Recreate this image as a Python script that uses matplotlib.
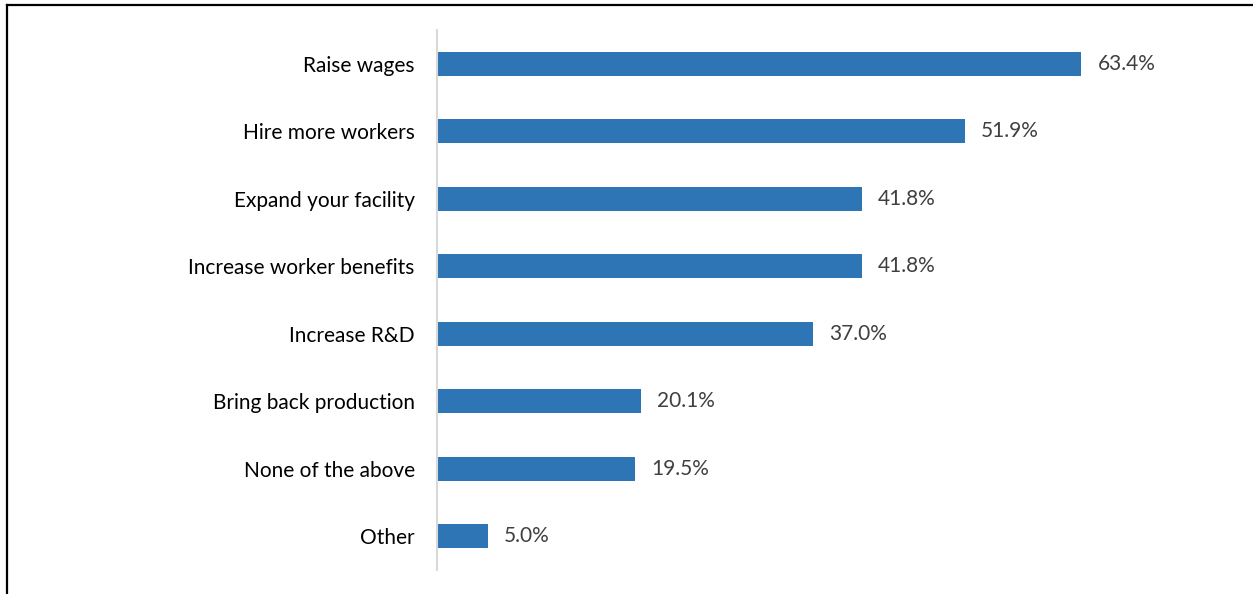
import matplotlib
matplotlib.use('Agg')
import matplotlib.pyplot as plt
from matplotlib.lines import Line2D

categories = ['Raise wages', 'Hire more workers', 'Expand your facility',
              'Increase worker benefits', 'Increase R&D', 'Bring back production',
              'None of the above', 'Other']
values = [63.4, 51.9, 41.8, 41.8, 37.0, 20.1, 19.5, 5.0]

plt.rcParams['font.family'] = ['Lato', 'DejaVu Sans']

fig = plt.figure(figsize=(12.53, 5.94), dpi=100)
ax = fig.add_axes([437/1253, 24/594, (1240-437)/1253, 540/594])

ypos = list(range(len(categories)))
ax.barh(ypos, values, height=0.36, color='#2E75B6')
for y, v in zip(ypos, values):
    ax.annotate(f'{v:.1f}%', (v, y), xytext=(11.5, 0), textcoords='offset points',
                va='center', ha='left', fontsize=15, color='#404040')

ax.set_yticks(ypos)
ax.set_yticklabels(categories, fontsize=15, color='#000000')
ax.tick_params(axis='y', length=0, pad=16)
ax.set_ylim(7.5, -0.5)
ax.set_xlim(0, 79)
ax.set_xticks([])
for s in ['top', 'right', 'bottom']:
    ax.spines[s].set_visible(False)
ax.spines['left'].set_color('#D9D9D9')
ax.spines['left'].set_linewidth(1.5)

# outer frame (partly cut off at the right and bottom)
fig.add_artist(Line2D([6.5/1253, 6.5/1253], [0, 1 - 4.5/594], color='black', lw=1.6,
                      transform=fig.transFigure))
fig.add_artist(Line2D([6.5/1253, 1], [1 - 4.5/594, 1 - 4.5/594], color='black', lw=1.6,
                      transform=fig.transFigure))

fig.savefig('out.png', dpi=100)
